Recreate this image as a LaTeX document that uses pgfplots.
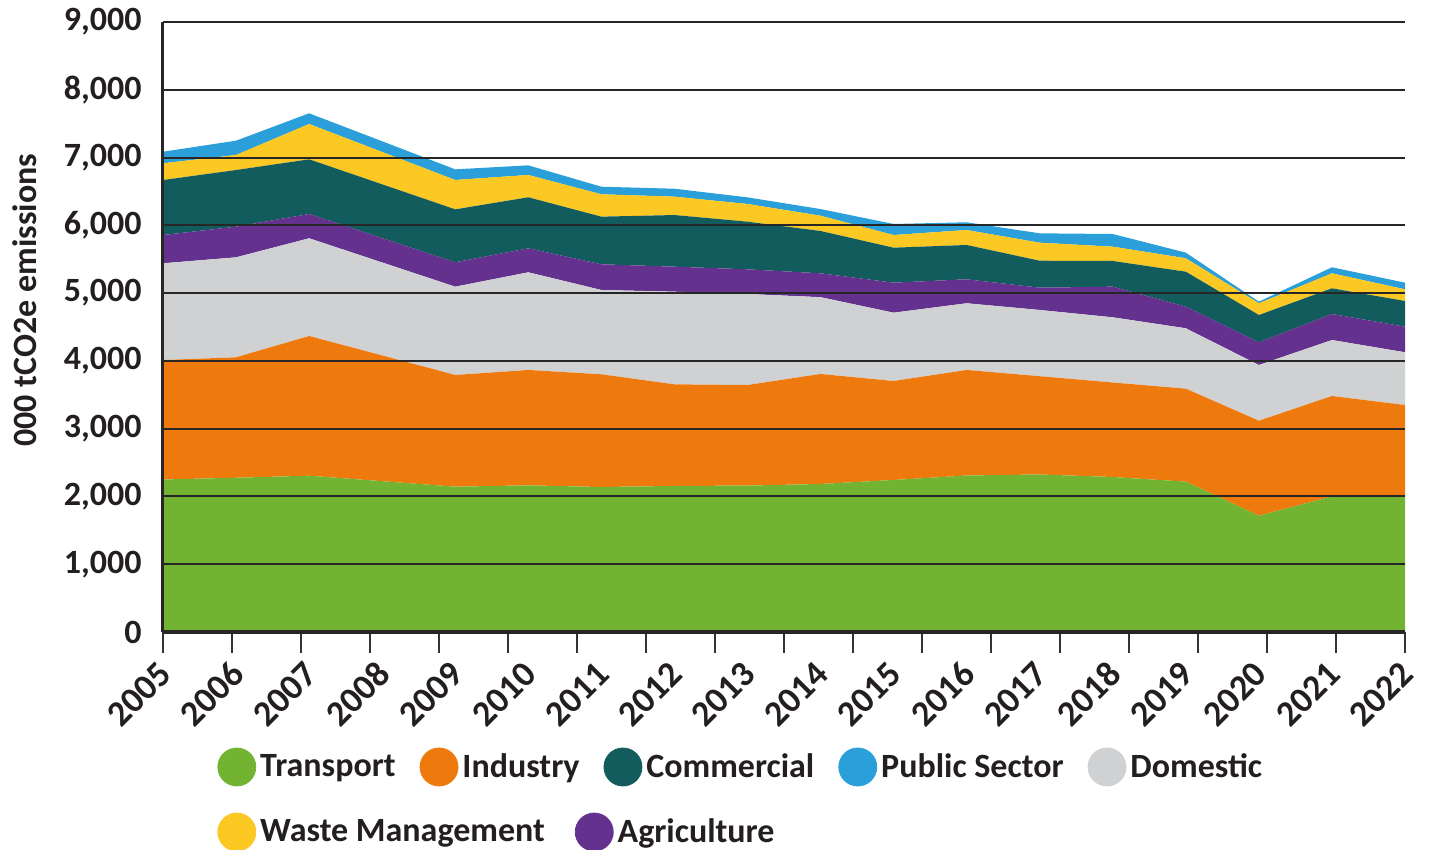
\documentclass[border=0pt]{standalone}
\usepackage{fontspec}
\setmainfont{Carlito}
\usepackage{pgfplots}
\usepackage{pgfplotstable}
\pgfplotsset{compat=1.18}

\definecolor{cTrans}{HTML}{72B432}
\definecolor{cInd}{HTML}{EE7A0E}
\definecolor{cDom}{HTML}{D0D1D3}
\definecolor{cAgri}{HTML}{65318E}
\definecolor{cComm}{HTML}{125C5E}
\definecolor{cWaste}{HTML}{FCC824}
\definecolor{cPub}{HTML}{2A9FDA}
\definecolor{txt}{HTML}{231F20}

\newcommand{\lbl}{\fontsize{17}{20}\selectfont\bfseries\color{txt}}
\newcommand{\xlbl}{\fontsize{18}{20}\selectfont\bfseries\color{txt}}

% emissions by sector, 000 tCO2e
\pgfplotstableread{
year T    I    D    A   C   W   P
2005 2250 1763 1427 417 812 246 171
2006 2276 1777 1475 452 836 222 211
2007 2306 2061 1442 358 807 521 158
2008 2225 1855 1372 359 794 477 158
2009 2144 1648 1303 360 781 433 157
2010 2164 1702 1441 354 753 329 142
2011 2139 1663 1244 379 703 330 112
2012 2155 1499 1367 369 762 271 117
2013 2160 1484 1343 364 703 261 98
2014 2184 1623 1133 352 625 225 98
2015 2243 1460 1008 443 516 187 163
2016 2309 1557 984  354 506 221 114
2017 2324 1450 977  329 398 266 138
2018 2287 1394 962  452 379 211 187
2019 2218 1372 891  319 516 198 83
2020 1716 1401 822  335 403 173 24
2021 2000 1482 826  384 379 221 89
2022 2011 1338 778  377 380 172 98
}\emis

\begin{document}
\begin{tikzpicture}
\begin{axis}[
    name=ax,
    scale only axis,
    width=621pt, height=305pt,
    xmin=2005, xmax=2022,
    ymin=0, ymax=9000,
    stack plots=y,
    axis on top,
    axis x line*=bottom,
    axis y line*=left,
    axis line style={line width=1.5pt, color=black!85},
    x axis line style={line width=2pt},
    ytick={0,1000,...,9000},
    ymajorgrids,
    grid style={line width=1pt, color=black!85},
    ytick style={draw=none},
    /pgf/number format/assume math mode=true,
    /pgf/number format/1000 sep={,},
    yticklabel style={font=\lbl, inner sep=0pt, xshift=0pt},
    xtick={2005,2005.9444,2006.8889,2007.8333,2008.7778,2009.7222,2010.6667,2011.6111,2012.5556,2013.5,2014.4444,2015.3889,2016.3333,2017.2778,2018.2222,2019.1667,2020.1111,2021.0556,2022},
    xticklabels={},
    tick align=outside,
    major tick length=10.5pt,
    xtick style={line width=1pt, color=black!80},
    extra x ticks={2005,2006,2007,2008,2009,2010,2011,2012,2013,2014,2015,2016,2017,2018,2019,2020,2021,2022},
    extra x tick labels={2005,2006,2007,2008,2009,2010,2011,2012,2013,2014,2015,2016,2017,2018,2019,2020,2021,2022},
    extra x tick style={major tick length=0pt, grid=none},
    xticklabel style={font=\xlbl, inner sep=0pt, xshift=1pt, yshift=-18pt, rotate=45, anchor=east},
    ylabel={000 tCO2e emissions},
    ylabel style={font=\lbl, at={(axis description cs:-0.1111,0.544)}, anchor=center},
    legend columns=-1,
    legend cell align=left,
    legend style={at={(0.0435,-0.2213)}, anchor=west, draw=none, fill=none,
        inner sep=0pt, font=\lbl, nodes={inner xsep=2pt, inner ysep=0pt},
        /tikz/every even column/.append style={column sep=10pt}},
]
\addplot[fill=cTrans, draw=none, forget plot] table[x=year, y=T] {\emis} \closedcycle;
\addplot[fill=cInd, draw=none, forget plot] table[x=year, y=I] {\emis} \closedcycle;
\addplot[fill=cDom, draw=none, forget plot] table[x=year, y=D] {\emis} \closedcycle;
\addplot[fill=cAgri, draw=none, forget plot] table[x=year, y=A] {\emis} \closedcycle;
\addplot[fill=cComm, draw=none, forget plot] table[x=year, y=C] {\emis} \closedcycle;
\addplot[fill=cWaste, draw=none, forget plot] table[x=year, y=W] {\emis} \closedcycle;
\addplot[fill=cPub, draw=none, forget plot] table[x=year, y=P] {\emis} \closedcycle;

\addlegendimage{legend image code/.code={\fill[cTrans] (0pt,0pt) circle (9.5pt);}}
\addlegendentry{Transport}
\addlegendimage{legend image code/.code={\fill[cInd] (0pt,0pt) circle (9.5pt);}}
\addlegendentry{Industry}
\addlegendimage{legend image code/.code={\fill[cComm] (0pt,0pt) circle (9.5pt);}}
\addlegendentry{Commercial}
\addlegendimage{legend image code/.code={\fill[cPub] (0pt,0pt) circle (9.5pt);}}
\addlegendentry{Public Sector}
\addlegendimage{legend image code/.code={\fill[cDom] (0pt,0pt) circle (9.5pt);}}
\addlegendentry{Domestic}
\end{axis}

% second legend row
\begin{axis}[
    at={(ax.south west)}, anchor=south west,
    scale only axis,
    width=621pt, height=305pt,
    hide axis,
    xmin=0, xmax=1, ymin=0, ymax=1,
    legend columns=-1,
    legend cell align=left,
    legend style={at={(0.0435,-0.3279)}, anchor=west, draw=none, fill=none,
        inner sep=0pt, font=\lbl, nodes={inner xsep=2pt, inner ysep=0pt},
        /tikz/every even column/.append style={column sep=13pt}},
]
\addlegendimage{legend image code/.code={\fill[cWaste] (0pt,0pt) circle (9.5pt);}}
\addlegendentry{Waste Management}
\addlegendimage{legend image code/.code={\fill[cAgri] (0pt,0pt) circle (9.5pt);}}
\addlegendentry{Agriculture}
\end{axis}

\pgfresetboundingbox
\path ([shift={(-81.5pt,-109pt)}]ax.south west) rectangle ([shift={(12pt,11pt)}]ax.north east);
\end{tikzpicture}
\end{document}
